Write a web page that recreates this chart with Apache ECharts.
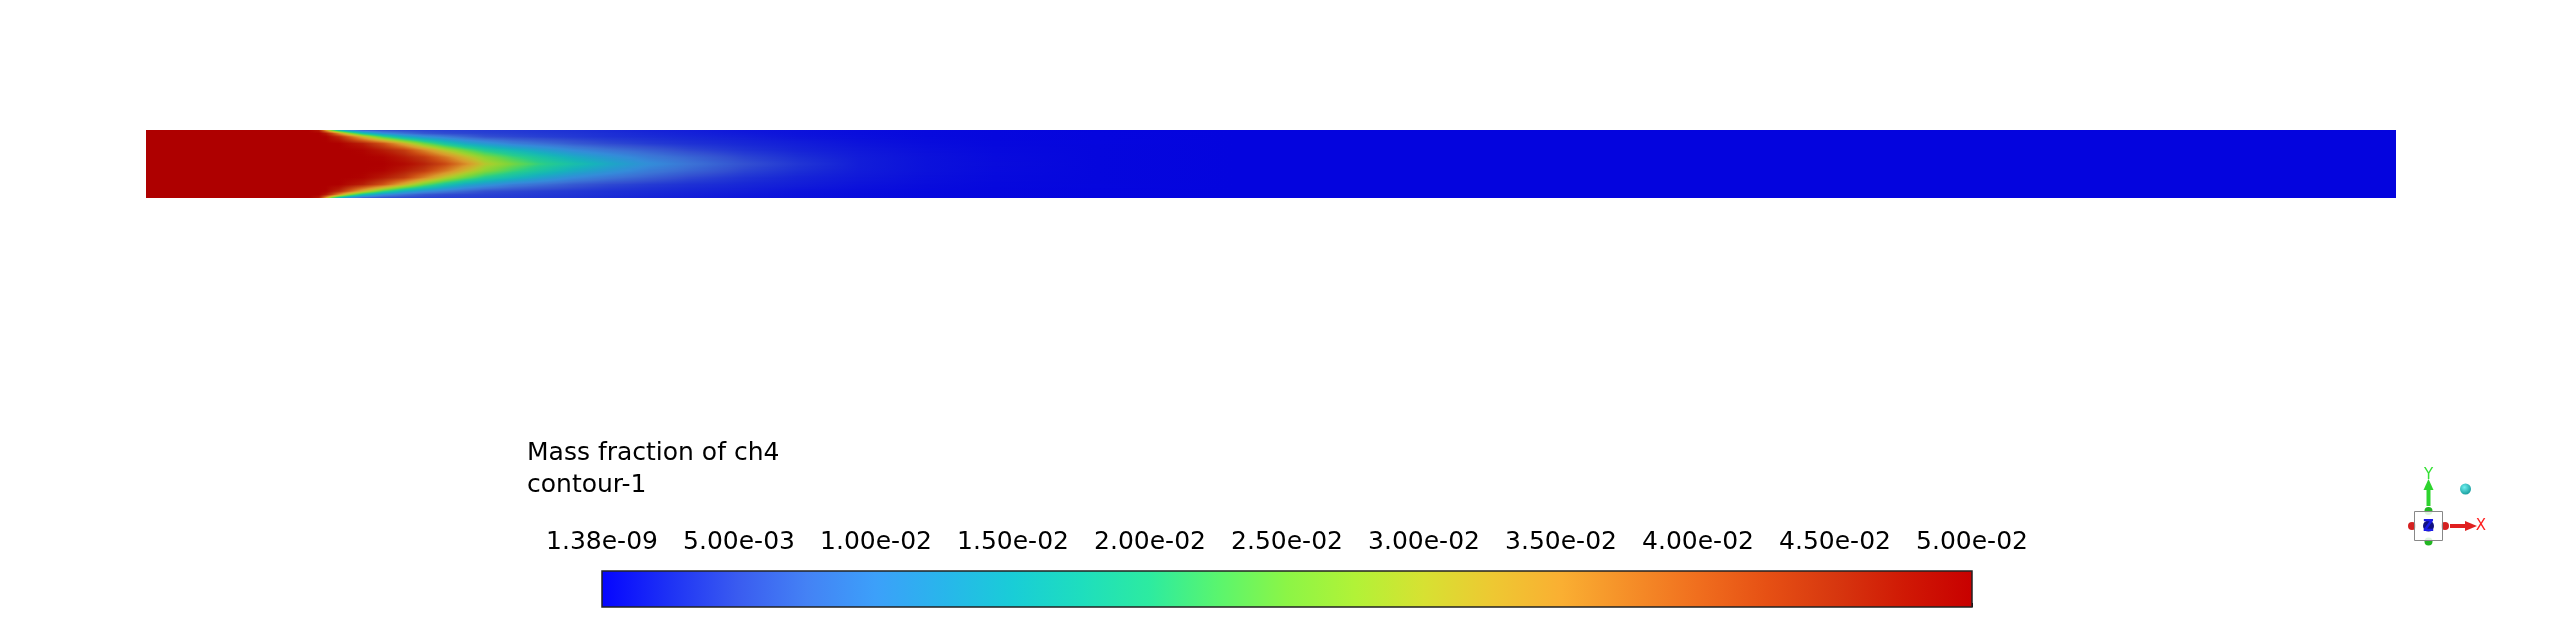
<!DOCTYPE html>
<html><head><meta charset="utf-8">
<script src="https://cdn.jsdelivr.net/npm/echarts@6/dist/echarts.min.js"></script>
<style>html,body{margin:0;padding:0;background:#fff}#c{width:2560px;height:630px}</style>
</head><body><div id="c"></div>
<script>
// ---------- data ----------
// axial stations along the duct (mm)
const xStations = [0, 24, 25.5, 26.5, 27.5, 28.5, 30, 32, 35, 38, 41, 44, 47, 50, 54, 58, 63, 68, 74, 80, 88, 96, 105, 115, 125, 140, 160, 331];
// transverse nodes (mm), wall to wall
const yNodes = [-5, -4.5, -4, -3, -2, -1, 0, 1, 2, 3, 4, 4.5, 5];
// mass fraction of ch4 at each station, values listed wall -> centre -> wall
const fieldColumns = [
  [0.05, 0.05, 0.05, 0.05, 0.05, 0.05, 0.05, 0.05, 0.05, 0.05, 0.05, 0.05, 0.05],
  [0.05, 0.05, 0.05, 0.05, 0.05, 0.05, 0.05, 0.05, 0.05, 0.05, 0.05, 0.05, 0.05],
  [0.0471, 0.05, 0.05, 0.05, 0.05, 0.05, 0.05, 0.05, 0.05, 0.05, 0.05, 0.05, 0.0471],
  [0.0338, 0.0472, 0.0498, 0.05, 0.05, 0.05, 0.05, 0.05, 0.05, 0.05, 0.0498, 0.0472, 0.0338],
  [0.0224, 0.0425, 0.0478, 0.05, 0.05, 0.05, 0.05, 0.05, 0.05, 0.05, 0.0478, 0.0425, 0.0224],
  [0.0147, 0.0357, 0.0458, 0.05, 0.05, 0.05, 0.05, 0.05, 0.05, 0.05, 0.0458, 0.0357, 0.0147],
  [0.0093, 0.0268, 0.0403, 0.0486, 0.05, 0.05, 0.05, 0.05, 0.05, 0.0486, 0.0403, 0.0268, 0.0093],
  [0.0055, 0.0175, 0.032, 0.0467, 0.0496, 0.05, 0.05, 0.05, 0.0496, 0.0467, 0.032, 0.0175, 0.0055],
  [0.0047, 0.0106, 0.0217, 0.0413, 0.0471, 0.0496, 0.05, 0.0496, 0.0471, 0.0413, 0.0217, 0.0106, 0.0047],
  [0.0043, 0.0076, 0.0144, 0.0326, 0.0437, 0.047, 0.0489, 0.047, 0.0437, 0.0326, 0.0144, 0.0076, 0.0043],
  [0.004, 0.0056, 0.0108, 0.0243, 0.0369, 0.0438, 0.0464, 0.0438, 0.0369, 0.0243, 0.0108, 0.0056, 0.004],
  [0.0038, 0.0047, 0.0085, 0.0181, 0.0296, 0.0379, 0.0424, 0.0379, 0.0296, 0.0181, 0.0085, 0.0047, 0.0038],
  [0.0037, 0.0043, 0.0066, 0.014, 0.0241, 0.0315, 0.0364, 0.0315, 0.0241, 0.014, 0.0066, 0.0043, 0.0037],
  [0.0035, 0.004, 0.005, 0.0117, 0.0195, 0.0261, 0.0296, 0.0261, 0.0195, 0.0117, 0.005, 0.004, 0.0035],
  [0.0033, 0.0037, 0.0044, 0.0089, 0.016, 0.0213, 0.0247, 0.0213, 0.016, 0.0089, 0.0044, 0.0037, 0.0033],
  [0.0031, 0.0034, 0.0039, 0.0075, 0.013, 0.0178, 0.0207, 0.0178, 0.013, 0.0075, 0.0039, 0.0034, 0.0031],
  [0.0028, 0.0031, 0.0034, 0.0058, 0.01, 0.0141, 0.0171, 0.0141, 0.01, 0.0058, 0.0034, 0.0031, 0.0028],
  [0.0024, 0.0027, 0.0029, 0.0046, 0.008, 0.0114, 0.0138, 0.0114, 0.008, 0.0046, 0.0029, 0.0027, 0.0024],
  [0.0019, 0.0022, 0.0025, 0.0036, 0.0062, 0.0085, 0.0104, 0.0085, 0.0062, 0.0036, 0.0025, 0.0022, 0.0019],
  [0.0016, 0.0018, 0.0021, 0.0029, 0.0045, 0.0066, 0.0078, 0.0066, 0.0045, 0.0029, 0.0021, 0.0018, 0.0016],
  [0.0011, 0.0013, 0.0016, 0.0022, 0.003, 0.0042, 0.0051, 0.0042, 0.003, 0.0022, 0.0016, 0.0013, 0.0011],
  [0.0008, 0.0009, 0.001, 0.0016, 0.002, 0.0027, 0.0032, 0.0027, 0.002, 0.0016, 0.001, 0.0009, 0.0008],
  [0.0005, 0.00056, 0.00063, 0.00093, 0.00126, 0.0015, 0.0016, 0.0015, 0.00126, 0.00093, 0.00063, 0.00056, 0.0005],
  [0.00028, 0.00031, 0.00032, 0.00047, 0.00066, 0.0008, 0.00082, 0.0008, 0.00066, 0.00047, 0.00032, 0.00031, 0.00028],
  [0.00014, 0.00016, 0.00016, 0.00022, 0.0003, 0.00037, 0.0004, 0.00037, 0.0003, 0.00022, 0.00016, 0.00016, 0.00014],
  [0, 0.00003, 0.00005, 0.0001, 0.00011, 0.00012, 0.00013, 0.00012, 0.00011, 0.0001, 0.00005, 0.00003, 0],
  [0, 0, 0, 0, 0, 0, 0, 0, 0, 0, 0, 0, 0],
  [0, 0, 0, 0, 0, 0, 0, 0, 0, 0, 0, 0, 0]
];
const colorbarMin = 0;           // 1.38e-09
const colorbarMax = 0.05;
const colorbarStep = 0.005;
const tickLabels = ['1.38e-09', '5.00e-03', '1.00e-02', '1.50e-02', '2.00e-02', '2.50e-02', '3.00e-02', '3.50e-02', '4.00e-02', '4.50e-02', '5.00e-02'];
const titleLines = ['Mass fraction of ch4', 'contour-1'];

// ---------- colour map (style) ----------
const COLOR_STOPS = [
  [0, [5, 5, 255]], [0.05, [30, 50, 245]], [0.1, [58, 92, 240]], [0.15, [68, 130, 245]],
  [0.2, [60, 160, 250]], [0.25, [40, 182, 235]], [0.3, [25, 205, 215]], [0.35, [30, 222, 190]],
  [0.4, [45, 235, 160]], [0.45, [90, 245, 110]], [0.5, [140, 245, 70]], [0.55, [178, 242, 55]],
  [0.6, [215, 225, 50]], [0.65, [238, 200, 50]], [0.7, [250, 175, 50]], [0.75, [245, 142, 40]],
  [0.8, [240, 110, 30]], [0.85, [230, 80, 20]], [0.9, [215, 55, 15]], [0.95, [208, 25, 5]],
  [1, [200, 0, 0]]
];
const FIELD_SHADE = 0.87;
function rgbAt(f) {
  f = Math.max(0, Math.min(1, f));
  for (let i = 1; i < COLOR_STOPS.length; i++) {
    const a = COLOR_STOPS[i - 1], b = COLOR_STOPS[i];
    if (f <= b[0]) {
      const t = (f - a[0]) / (b[0] - a[0]);
      return [0, 1, 2].map(k => a[1][k] + (b[1][k] - a[1][k]) * t);
    }
  }
  return COLOR_STOPS[COLOR_STOPS.length - 1][1];
}
function colorAt(v, shade) {
  const c = rgbAt((v - colorbarMin) / (colorbarMax - colorbarMin));
  return 'rgb(' + c.map(x => Math.round(x * shade)).join(',') + ')';
}

// ---------- build cell table from the arrays ----------
const cells = [];
for (let i = 0; i < xStations.length - 1; i++) {
  for (let j = 0; j < yNodes.length - 1; j++) {
    cells.push([xStations[i], xStations[i + 1], yNodes[j], yNodes[j + 1],
      fieldColumns[i][j], fieldColumns[i + 1][j], fieldColumns[i][j + 1], fieldColumns[i + 1][j + 1]]);
  }
}

// each cell is shaded like a Gouraud-shaded mesh face, one pixel row at a time
function renderField(params, api) {
  const x0 = api.value(0), x1 = api.value(1), y0 = api.value(2), y1 = api.value(3);
  const v00 = api.value(4), v10 = api.value(5), v01 = api.value(6), v11 = api.value(7);
  const p0 = api.coord([x0, y0]), p1 = api.coord([x1, y1]);
  const left = Math.round(p0[0]), right = Math.round(p1[0]);
  const bottomF = p0[1], topF = p1[1];
  const rTop = Math.round(topF), rBottom = Math.round(bottomF);
  const children = [];
  for (let row = rTop; row < rBottom; row++) {
    let t = (bottomF - (row + 0.5)) / (bottomF - topF);
    t = Math.max(0, Math.min(1, t));
    const vL = v00 + (v01 - v00) * t, vR = v10 + (v11 - v10) * t;
    const K = Math.max(1, Math.min(20, Math.ceil(Math.abs(vR - vL) / 0.0008)));
    const stops = [];
    for (let s = 0; s <= K; s++) stops.push({ offset: s / K, color: colorAt(vL + (vR - vL) * s / K, FIELD_SHADE) });
    children.push({
      type: 'rect', silent: true,
      shape: { x: left, y: row, width: right - left, height: 1 },
      style: { fill: K === 1 && vL === vR ? stops[0].color : new echarts.graphic.LinearGradient(0, 0, 1, 0, stops) }
    });
  }
  return { type: 'group', children };
}

function renderColorbar(params, api) {
  const p0 = api.coord([api.value(0), api.value(2)]);
  const p1 = api.coord([api.value(1), api.value(3)]);
  const stops = COLOR_STOPS.map(s => ({ offset: s[0], color: 'rgb(' + s[1].map(Math.round).join(',') + ')' }));
  return {
    type: 'rect', silent: true,
    shape: { x: p0[0], y: p1[1], width: p1[0] - p0[0], height: p0[1] - p1[1] },
    style: { fill: new echarts.graphic.LinearGradient(0, 0, 1, 0, stops), stroke: '#222', lineWidth: 1.5 }
  };
}

const FONT = 'DejaVu Sans';
const chart = echarts.init(document.getElementById('c'), null, { renderer: 'canvas' });
chart.setOption({
  animation: false,
  backgroundColor: '#fff',
  title: {
    text: titleLines.join('\n'), left: 527, top: 437, padding: 0,
    textStyle: { fontFamily: FONT, fontSize: 25, fontWeight: 'normal', color: '#000', lineHeight: 32 }
  },
  grid: [
    { left: 145.5, top: 130, width: 2250.5, height: 68 },
    { left: 602, top: 571, width: 1370, height: 36 }
  ],
  xAxis: [
    { gridIndex: 0, type: 'value', min: xStations[0], max: xStations[xStations.length - 1], show: false },
    {
      gridIndex: 1, type: 'value', position: 'top', min: colorbarMin, max: colorbarMax, interval: colorbarStep,
      axisLine: { show: false },
      axisTick: { show: true, inside: false, length: 4, lineStyle: { color: '#000', width: 1 } },
      splitLine: { show: false },
      axisLabel: {
        show: true, margin: 16, color: '#000', fontFamily: FONT, fontSize: 25,
        showMinLabel: true, showMaxLabel: true, hideOverlap: false,
        formatter: (v) => tickLabels[Math.round((v - colorbarMin) / colorbarStep)]
      }
    }
  ],
  yAxis: [
    { gridIndex: 0, type: 'value', min: yNodes[0], max: yNodes[yNodes.length - 1], show: false },
    { gridIndex: 1, type: 'value', min: 0, max: 1, show: false }
  ],
  series: [
    { type: 'custom', xAxisIndex: 0, yAxisIndex: 0, clip: true, renderItem: renderField,
      encode: { x: [0, 1], y: [2, 3] }, data: cells, silent: true },
    { type: 'custom', xAxisIndex: 1, yAxisIndex: 1, renderItem: renderColorbar,
      encode: { x: [0, 1], y: [2, 3] }, data: [[colorbarMin, colorbarMax, 0, 1]], silent: true }
  ],
  graphic: [
    // orientation triad (decoration)
    { type: 'circle', shape: { cx: 2412, cy: 526, r: 4 }, style: { fill: '#d42020' } },
    { type: 'circle', shape: { cx: 2445, cy: 526, r: 4 }, style: { fill: '#d42020' } },
    { type: 'circle', shape: { cx: 2428.5, cy: 511, r: 4 }, style: { fill: '#22b622' } },
    { type: 'circle', shape: { cx: 2428.5, cy: 541.5, r: 4 }, style: { fill: '#22b622' } },
    { type: 'rect', shape: { x: 2414.5, y: 511.5, width: 28, height: 29 }, style: { fill: 'rgba(255,255,255,0.85)', stroke: '#888', lineWidth: 1 } },
    { type: 'circle', shape: { cx: 2428.5, cy: 526, r: 5.5 }, style: { fill: '#101080' } },
    { type: 'text', x: 2428.5, y: 527, style: { text: 'Z', fill: '#1a1ae6', font: 'bold 15px "DejaVu Sans"', align: 'center', verticalAlign: 'middle' } },
    { type: 'rect', shape: { x: 2426.5, y: 489, width: 4, height: 17 }, style: { fill: '#2ed42e' } },
    { type: 'polygon', shape: { points: [[2423.5, 490], [2428.5, 479], [2433.5, 490]] }, style: { fill: '#2ed42e' } },
    { type: 'text', x: 2428.5, y: 475, style: { text: 'Y', fill: '#33e033', font: '15px "DejaVu Sans"', align: 'center', verticalAlign: 'middle' } },
    { type: 'rect', shape: { x: 2450, y: 524, width: 16, height: 4 }, style: { fill: '#e02020' } },
    { type: 'polygon', shape: { points: [[2465, 521], [2477, 526], [2465, 531]] }, style: { fill: '#e02020' } },
    { type: 'text', x: 2481, y: 526, style: { text: 'X', fill: '#ff2020', font: '15px "DejaVu Sans"', align: 'center', verticalAlign: 'middle' } },
    { type: 'circle', shape: { cx: 2465.5, cy: 489, r: 5.5 },
      style: { fill: new echarts.graphic.RadialGradient(0.4, 0.35, 0.7, [{ offset: 0, color: '#6ff0f0' }, { offset: 1, color: '#149a9a' }]) } }
  ]
});
</script>
</body></html>
